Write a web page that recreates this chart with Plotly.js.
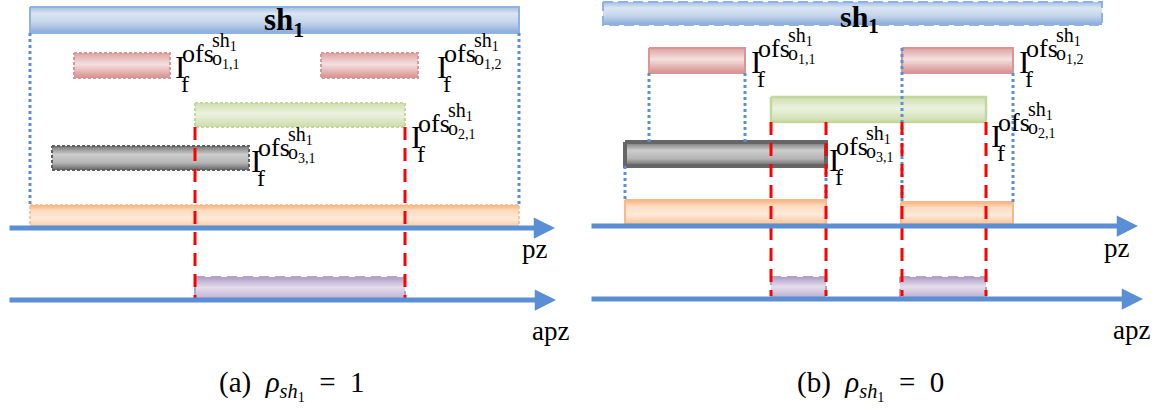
<!DOCTYPE html>
<html><head><meta charset="utf-8">
<script src="https://cdn.plot.ly/plotly-3.0.1.min.js"></script>
<style>html,body{margin:0;padding:0;background:#fff}</style>
</head><body><div id="chart" style="width:1158px;height:414px"></div>
<script>
// ---------- data: intervals on the timeline ----------
// panel (a) rho = 1
const A_shard = [[30, 519]];
const A_o1 = [[74, 170], [321, 418]];
const A_o2 = [[195, 405]];
const A_o3 = [[52, 249]];
const A_pz = [[30, 519]];
const A_apz = [[195, 405]];
// panel (b) rho = 0
const B_shard = [[603, 1102]];
const B_o1 = [[649, 745], [902, 1013]];
const B_o2 = [[771, 986]];
const B_o3 = [[625, 826]];
const B_pz = [[625, 826], [901, 1013]];
const B_apz = [[771, 826], [900, 986]];
// label texts
const ofsSubsA = ['1,1', '1,2', '2,1', '3,1'];
const ofsSubsB = ['1,1', '1,2', '2,1', '3,1'];
const NB = '\u00a0';
const captions = ['(a)' + NB + NB + '<i>ρ</i><sub><i>sh</i><sub>1</sub></sub>' + NB + NB + '=' + NB + NB + '1',
                  '(b)' + NB + NB + '<i>ρ</i><sub><i>sh</i><sub>1</sub></sub>' + NB + NB + '=' + NB + NB + '0'];
const axisNames = ['pz', 'apz'];

// ---------- layout geometry (positions) ----------
const rowsA = {sh: [7, 33], o1: [53, 78], o2: [103, 127], o3: [146, 170], pz: [205, 228], apz: [277, 300], pzAxis: 228, apzAxis: 300, axStart: 8, pzTip: 555, apzTip: 556};
const rowsB = {sh: [2, 25], o1: [48, 73], o2: [97, 122], o3: [142, 166], pz: [200, 224], apz: [277, 298], pzAxis: 226, apzAxis: 299, axStart: 590, pzTip: 1138, apzTip: 1143};

// ---------- styles ----------
const ST = {
  sh: {cs: [[0, '#a3bde0'], [0.25, '#dae5f2'], [0.6, '#c4d5eb'], [1, '#89aad9']], line: '#8db3e2'},
  o1: {cs: [[0, '#dea2a1'], [0.45, '#f4dfdf'], [1, '#d68f8e']], line: '#d99694'},
  o2: {cs: [[0, '#cfdfae'], [0.45, '#ecf2e0'], [1, '#cddcab']], line: '#c3d69b'},
  o3: {cs: [[0, '#747474'], [0.35, '#cdcdcd'], [0.7, '#b5b5b5'], [1, '#646464']], line: '#5f5f5f'},
  pz: {cs: [[0, '#f7b27a'], [0.25, '#fcdcc2'], [0.6, '#fde9d9'], [1, '#f9c59a']], line: '#f8b887'},
  apz: {cs: [[0, '#ad9bc3'], [0.45, '#e4ddec'], [1, '#bcadd0']], line: '#b3a2c7'}
};
const BLUE = '#5a8fd6';

const traces = [];
function rect(x0, x1, y0, y1, st, dash, lw, lc) {
  traces.push({
    type: 'scatter', mode: 'lines', hoverinfo: 'skip', showlegend: false,
    x: [x0, x1, x1, x0, x0], y: [y0, y0, y1, y1, y0],
    fill: 'toself',
    fillgradient: {type: 'vertical', start: y0, stop: y1, colorscale: st.cs},
    line: {color: lc || st.line, width: lw, dash: dash}
  });
}
function bars(list, row, st, dash, lw, lc) {
  list.forEach(iv => rect(iv[0], iv[1], row[0], row[1], st, dash, lw, lc));
}

// panel A bars
bars(A_shard, rowsA.sh, ST.sh, 'solid', 2);
bars(A_o1, rowsA.o1, ST.o1, '3px,2px', 2);
bars(A_o2, rowsA.o2, ST.o2, '3px,2px', 2);
bars(A_o3, rowsA.o3, ST.o3, '3px,2px', 2);
bars(A_pz, rowsA.pz, ST.pz, '3px,2px', 1.5);
bars(A_apz, rowsA.apz, ST.apz, '10px,6px', 2);
// panel B bars
bars(B_shard, rowsB.sh, ST.sh, '10px,5px', 2);
bars(B_o1, rowsB.o1, ST.o1, 'solid', 2, '#d99694');
bars(B_o2, rowsB.o2, ST.o2, 'solid', 2.5);
bars(B_o3, rowsB.o3, ST.o3, 'solid', 4, '#666666');
bars([B_pz[0]], rowsB.pz, ST.pz, 'solid', 2);
bars([B_pz[1]], [rowsB.pz[0] + 2, rowsB.pz[1]], ST.pz, 'solid', 2);
bars(B_apz, rowsB.apz, ST.apz, '10px,6px', 2);

// guide lines
const shapes = [];
function vline(x, y0, y1, color, dash, w) {
  shapes.push({type: 'line', xref: 'x', yref: 'y', x0: x, x1: x, y0: y0, y1: y1, layer: 'above',
    line: {color: color, width: w, dash: dash}});
}
const DOT = '3px,3px', RDASH = '13px,8px';
// A: shard borders
A_shard[0].forEach(x => vline(x, rowsA.sh[1], rowsA.pz[0], BLUE, DOT, 3));
// B: dotted projections
B_o1[0].forEach(x => vline(x, rowsB.o1[1], rowsB.o3[0], BLUE, DOT, 3));
B_o3[0].forEach(x => vline(x, rowsB.o3[1], rowsB.pz[0], BLUE, DOT, 3));
vline(B_o1[1][0], rowsB.o1[0], rowsB.pz[0] + 2, BLUE, DOT, 3);
vline(B_o1[1][1], rowsB.o1[1], rowsB.pz[0] + 2, BLUE, DOT, 3);
// red dashed: projection of apz intervals
A_apz.forEach(iv => iv.forEach(x => vline(x, rowsA.o2[1], rowsA.apz[1] - 2, '#ff0000', RDASH, 3)));
B_apz.forEach((iv, i) => iv.forEach((x, j) => vline((i === 1 && j === 0) ? B_o1[1][0] : x, rowsB.o2[1], rowsB.apz[1] - 2, '#ff0000', RDASH, 3)));

// annotations
const ann = [];
const SERIF = '"Liberation Serif", "DejaVu Serif", serif';
function txt(t, x, y, size, xa, ya, extra) {
  ann.push(Object.assign({text: t, x: x, y: y, xref: 'x', yref: 'y', showarrow: false,
    xanchor: xa || 'left', yanchor: ya || 'middle', font: {family: SERIF, size: size, color: '#000'}}, extra || {}));
}
function ofsLabel(x, y, sub) {
  txt('I', x, y, 31);
  txt('f', x + 6, y + 17, 24);
  txt('ofs', x + 7, y - 14, 26);
  txt('sh<sub>1</sub>', x + 37, y - 26, 20);
  txt('o<sub>' + sub + '</sub>', x + 37, y - 8, 20);
}
// label anchors (I position)
const labPosA = [[173, 67], [435, 67], [409, 137], [249, 161]];
const labPosB = [[749, 62], [1017, 62], [989, 136], [827, 160]];
labPosA.forEach((p, i) => ofsLabel(p[0], p[1], ofsSubsA[i]));
labPosB.forEach((p, i) => ofsLabel(p[0], p[1], ofsSubsB[i]));

// shard titles
txt('<b>sh</b><sub><b>1</b></sub>', (A_shard[0][0] + A_shard[0][1]) / 2 + 9, 22, 31, 'center');
txt('<b>sh</b><sub><b>1</b></sub>', (B_shard[0][0] + B_shard[0][1]) / 2 + 7, 19, 30, 'center');

// axis arrows
function arrow(x0, x1, y) {
  ann.push({x: x1, y: y, ax: x0, ay: y, xref: 'x', yref: 'y', axref: 'x', ayref: 'y', text: '',
    showarrow: true, arrowhead: 2, arrowsize: 0.85, arrowwidth: 5, arrowcolor: BLUE});
}
arrow(rowsA.axStart, rowsA.pzTip, rowsA.pzAxis);
arrow(rowsA.axStart, rowsA.apzTip, rowsA.apzAxis);
arrow(rowsB.axStart, rowsB.pzTip, rowsB.pzAxis);
arrow(rowsB.axStart, rowsB.apzTip, rowsB.apzAxis);

txt(axisNames[0], 535, 249, 27, 'center');
txt(axisNames[1], 550, 331, 27, 'center');
txt(axisNames[0], 1117, 248, 27, 'center');
txt(axisNames[1], 1131, 330, 27, 'center');

txt(captions[0], 292, 385, 29, 'center');
txt(captions[1], 870, 385, 29, 'center');

const layout = {
  width: 1158, height: 414, margin: {l: 0, r: 0, t: 0, b: 0},
  paper_bgcolor: '#fff', plot_bgcolor: '#fff', showlegend: false,
  font: {family: SERIF},
  xaxis: {range: [0, 1158], visible: false, fixedrange: true},
  yaxis: {range: [414, 0], visible: false, fixedrange: true},
  shapes: shapes, annotations: ann
};
Plotly.newPlot('chart', traces, layout, {staticPlot: true, displayModeBar: false});
</script></body></html>
